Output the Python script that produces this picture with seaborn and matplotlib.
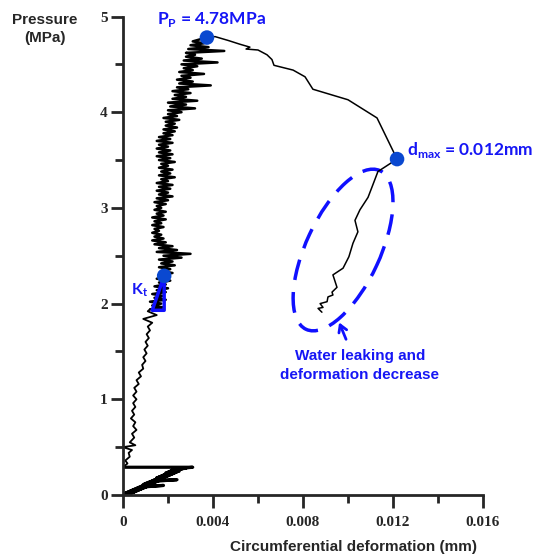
import numpy as np
import matplotlib.pyplot as plt
import seaborn as sns
from matplotlib.patches import Ellipse
from matplotlib.transforms import ScaledTranslation
from matplotlib.ticker import MultipleLocator

# ---- data (deformation in micrometres, pressure in MPa) ----
# initial loading / unloading band
p_start = [0.00, 0.02, 0.01, 0.03, 0.02, 0.04, 0.03, 0.05, 0.04, 0.06, 0.05, 0.07, 0.06, 0.08,
           0.07, 0.09, 0.08, 0.10, 0.09, 0.11, 0.10, 0.12, 0.11, 0.13, 0.12, 0.14, 0.13, 0.15,
           0.14, 0.16, 0.15, 0.17, 0.16, 0.18, 0.17, 0.19, 0.18, 0.20, 0.19, 0.21, 0.20, 0.22,
           0.21, 0.23, 0.22, 0.24, 0.23, 0.25, 0.24, 0.26, 0.25, 0.27, 0.26, 0.28, 0.27, 0.29,
           0.29]
d_start = [0.0, 0.4, 0.0, 0.5, 0.1, 0.6, 0.2, 0.7, 0.3, 0.8, 0.4, 0.9, 0.5, 1.0,
           0.6, 1.1, 0.7, 1.8, 0.8, 1.2, 0.9, 1.3, 0.9, 1.4, 1.0, 1.5, 1.1, 1.6,
           1.2, 2.4, 1.3, 1.7, 1.4, 1.8, 1.5, 1.9, 1.5, 2.0, 1.6, 2.1, 1.7, 2.2,
           1.8, 2.3, 1.9, 2.4, 1.9, 2.5, 2.0, 2.4, 2.1, 2.6, 2.2, 2.8, 2.2, 3.1,
           0.0]

# pre-peak branch: thin wavy part up to ~1.9 MPa
p_low = [0.33, 0.36, 0.40, 0.44, 0.47, 0.50, 0.52, 0.55, 0.60, 0.64, 0.68, 0.72, 0.76, 0.80,
         0.84, 0.88, 0.92, 0.96, 1.00, 1.04, 1.08, 1.12, 1.16, 1.20, 1.24, 1.28, 1.32, 1.36,
         1.40, 1.44, 1.48, 1.52, 1.56, 1.60, 1.64, 1.68, 1.72, 1.76, 1.80, 1.84, 1.88, 1.92]
d_low = [0.2, 0.1, 0.3, 0.25, 0.4, 0.0, 0.55, 0.3, 0.5, 0.4, 0.6, 0.45, 0.55, 0.35,
         0.5, 0.4, 0.55, 0.45, 0.6, 0.45, 0.6, 0.5, 0.7, 0.6, 0.8, 0.7, 0.9, 0.85,
         1.0, 0.9, 1.05, 0.95, 1.1, 1.0, 1.15, 1.05, 1.2, 1.1, 1.3, 0.9, 1.5, 1.1]

# pre-peak branch: noisy band 1.94 - 4.78 MPa
p_band = [1.94, 1.96, 1.98, 2.00, 2.02, 2.04, 2.06, 2.08, 2.10, 2.12, 2.14, 2.16, 2.18, 2.20,
          2.22, 2.24, 2.26, 2.28, 2.30, 2.32, 2.34, 2.36, 2.38, 2.40, 2.42, 2.44, 2.46, 2.48,
          2.50, 2.52, 2.54, 2.56, 2.58, 2.60,
          2.62, 2.64, 2.66, 2.68, 2.70, 2.72, 2.74, 2.76, 2.78, 2.80, 2.82, 2.84, 2.86, 2.88,
          2.90, 2.92, 2.94, 2.96, 2.98, 3.00, 3.02, 3.04, 3.06, 3.08, 3.10, 3.12, 3.14, 3.16,
          3.18, 3.20,
          3.22, 3.24, 3.26, 3.28, 3.30, 3.32, 3.34, 3.36, 3.38, 3.40, 3.42, 3.44, 3.46, 3.48,
          3.50, 3.52, 3.54, 3.56, 3.58, 3.60, 3.62, 3.64, 3.66, 3.68, 3.70, 3.72, 3.74, 3.76,
          3.78, 3.80, 3.82, 3.84, 3.86, 3.88, 3.90, 3.92, 3.94, 3.96, 3.98, 4.00,
          4.02, 4.04, 4.06, 4.08, 4.10, 4.12, 4.14, 4.16, 4.18, 4.20, 4.22, 4.24, 4.26, 4.28,
          4.30, 4.32, 4.34, 4.36, 4.38, 4.40, 4.42, 4.44, 4.46, 4.48, 4.50, 4.52, 4.54, 4.56,
          4.58, 4.60, 4.62, 4.64, 4.66, 4.68, 4.70, 4.72, 4.74, 4.76, 4.78]
d_band = [1.2, 1.8, 1.3, 1.7, 1.2, 1.9, 1.4, 1.8, 1.3, 1.9, 1.5, 2.0, 1.4, 1.9,
          1.6, 2.1, 1.5, 2.0, 1.6, 2.2, 1.7, 2.1, 1.6, 2.3, 1.7, 2.2, 1.6, 2.6,
          1.8, 3.0, 1.5, 2.4, 1.6, 2.2,
          1.4, 1.9, 1.3, 1.8, 1.4, 1.7, 1.3, 1.6, 1.4, 1.8, 1.3, 1.7, 1.4, 1.9,
          1.3, 1.8, 1.5, 1.9, 1.4, 1.7, 1.5, 1.9, 1.4, 2.0, 1.5, 2.2, 1.6, 2.0,
          1.5, 2.1,
          1.6, 2.2, 1.5, 2.0, 1.7, 2.3, 1.6, 2.1, 1.7, 2.2, 1.6, 2.0, 1.7, 2.3,
          1.6, 2.1, 1.5, 2.2, 1.6, 2.1, 1.5, 2.0, 1.6, 2.2, 1.5, 2.1, 1.6, 2.2,
          1.8, 2.3, 1.8, 2.4, 1.9, 2.3, 1.9, 2.5, 1.8, 2.4, 2.0, 2.6,
          2.0, 3.2, 2.1, 2.8, 2.0, 3.3, 2.2, 2.8, 2.3, 3.0, 2.2, 2.9, 2.4, 3.9,
          2.5, 3.1, 2.4, 3.0, 2.6, 3.6, 2.5, 3.1, 2.7, 3.3, 2.6, 4.2, 2.7, 3.5,
          2.8, 3.2, 2.8, 4.5, 2.9, 3.8, 3.0, 3.6, 3.1, 3.4, 3.73]

# post-peak branch (to d_max, then water leaking)
p_post = [4.78, 4.79, 4.75, 4.71, 4.68, 4.66, 4.65, 4.60, 4.55, 4.49, 4.44, 4.37, 4.24, 4.13,
          3.94, 3.51, 3.38, 3.22, 3.11, 2.98, 2.87, 2.75, 2.63, 2.49, 2.37, 2.30, 2.17,
          2.12, 2.09, 2.07, 2.02, 2.00, 1.96, 1.95, 1.91]
d_post = [3.73, 4.09, 4.67, 5.20, 5.64, 5.47, 6.00, 6.40, 6.62, 6.71, 7.56, 8.09, 8.44, 10.00,
          11.29, 12.18, 11.33, 11.07, 10.89, 10.53, 10.31, 10.44, 10.22, 10.04, 9.78, 9.33, 9.51,
          9.29, 9.33, 9.11, 9.07, 8.76, 8.89, 8.67, 8.84]

# key points
peak = (3.73, 4.78)
dmax = (12.18, 3.51)
kt_point = (1.83, 2.29)
kt_triangle_d = [1.83, 1.30, 1.83, 1.83]
kt_triangle_p = [2.29, 1.93, 1.93, 2.29]

xtick_values = [0, 0.004, 0.008, 0.012, 0.016]
xtick_labels = ["0", "0.004", "0.008", "0.012", "0.016"]
ytick_values = [0, 1, 2, 3, 4, 5]
ytick_labels = ["0", "1", "2", "3", "4", "5"]

assert len(p_start) == len(d_start)
assert len(p_low) == len(d_low)
assert len(p_band) == len(d_band)
assert len(p_post) == len(d_post)

# ---- style ----
sns.set_style("ticks")
plt.rcParams['font.family'] = ['Liberation Sans', 'DejaVu Sans']
plt.rcParams['mathtext.fontset'] = 'custom'
plt.rcParams['mathtext.rm'] = 'Lato:bold'
plt.rcParams['mathtext.bf'] = 'Lato:bold'

blue_txt = '#1616f5'
blue_line = '#1010ff'
blue_dot = '#0a48d0'

fig = plt.figure(figsize=(5.34, 5.6), dpi=100)
ax = fig.add_axes([123 / 534, 1 - 495 / 560, 360 / 534, 478.5 / 560])

um = 1000.0
sns.lineplot(x=np.array(d_start) / um, y=p_start, sort=False, estimator=None,
             color='black', linewidth=2.3, ax=ax)
sns.lineplot(x=np.array([0.0] + d_low + [d_band[0]]) / um, y=[0.29] + p_low + [p_band[0]],
             sort=False, estimator=None, color='black', linewidth=1.3, ax=ax)
sns.lineplot(x=np.array(d_band) / um, y=p_band, sort=False, estimator=None,
             color='black', linewidth=1.8, ax=ax)
sns.lineplot(x=np.array(d_post) / um, y=p_post, sort=False, estimator=None,
             color='black', linewidth=1.1, ax=ax)

# K_t triangle
sns.lineplot(x=np.array(kt_triangle_d) / um, y=kt_triangle_p, sort=False, estimator=None,
             color=blue_line, linewidth=2.5, ax=ax, zorder=4)

pts_d = np.array([peak[0], dmax[0], kt_point[0]]) / um
pts_p = [peak[1], dmax[1], kt_point[1]]
sns.scatterplot(x=pts_d, y=pts_p, color=blue_dot, s=110, edgecolor='none', ax=ax, zorder=5)

ax.set_xlim(0, 0.016)
ax.set_ylim(0, 5)
ax.set_xticks(xtick_values)
ax.set_xticklabels(xtick_labels)
ax.set_yticks(ytick_values)
ax.set_yticklabels(ytick_labels)
ax.xaxis.set_minor_locator(MultipleLocator(0.002))
ax.yaxis.set_minor_locator(MultipleLocator(0.5))
ax.tick_params(which='major', direction='out', length=9, width=2)
ax.tick_params(which='minor', direction='out', length=6, width=2)
ax.tick_params(axis='y', pad=2)
ax.tick_params(axis='x', pad=6)
for lab in ax.get_xticklabels() + ax.get_yticklabels():
    lab.set_fontfamily('Liberation Serif')
    lab.set_fontweight('bold')
    lab.set_fontsize(11)

for s in ['top', 'right']:
    ax.spines[s].set_visible(False)
for s in ['left', 'bottom']:
    ax.spines[s].set_linewidth(2)
ax.set_xlabel('')
ax.set_ylabel('')

fig.text(45 / 534, 1 - 29 / 560, 'Pressure\n(MPa)', ha='center', va='center',
         fontsize=11, fontweight='bold', linespacing=1.4)
fig.text(354 / 534, 1 - 547 / 560, 'Circumferential deformation (mm)', ha='center',
         va='center', fontsize=11, fontweight='bold')

# annotations
ax.text(0.00392, 4.97, r'P$_\mathregular{P}$ = 4.78MPa', color=blue_txt, fontsize=12.5,
        fontweight='bold', family='Lato', ha='center', va='center', clip_on=False)
ax.text(0.01262, 3.605, r'd$_\mathregular{max}$ = 0.012mm', color=blue_txt, fontsize=12.5,
        fontweight='bold', family='Lato', ha='left', va='center', clip_on=False)
ax.text(0.00036, 2.14, r'K$_\mathregular{t}$', color=blue_txt, fontsize=11.5,
        fontweight='bold', family='Lato', ha='left', va='center')

ell = Ellipse((0, 0), 1.75, 0.74, angle=65, fill=False, edgecolor=blue_line, lw=2.5,
              linestyle=(0, (6, 3.5)),
              transform=fig.dpi_scale_trans + ScaledTranslation(0.00978, 2.56, ax.transData))
ax.add_patch(ell)

ax.annotate('', xy=(0.00956, 1.83), xytext=(0.00996, 1.60),
            arrowprops=dict(arrowstyle='->,head_length=0.5,head_width=0.3', color=blue_line, lw=2))
ax.text(0.01053, 1.35, 'Water leaking and\ndeformation decrease', color=blue_txt,
        fontsize=11, fontweight='bold', ha='center', va='center', linespacing=1.45)

fig.savefig('out.png', dpi=100)
